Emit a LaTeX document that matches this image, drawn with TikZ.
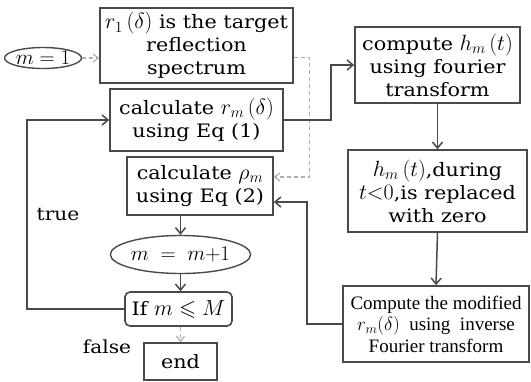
\RequirePackage{fix-cm}
\documentclass[tikz,border=0pt]{standalone}
\usepackage{amssymb}
\usepackage{fontspec}
\setmainfont{DejaVu Serif}[FakeStretch=1.12]
\newfontfamily\tnr{Liberation Serif}
\usetikzlibrary{arrows.meta,shapes.geometric,calc}
\definecolor{ln}{HTML}{4A4A4A}
\definecolor{lg}{HTML}{B0B0B0}
\newcommand\Mx[1]{{\fontsize{22}{23}\selectfont$#1$}}
\begin{document}
\begin{tikzpicture}[x=1pt,y=-1pt,
  box/.style={draw=ln,line width=1.6pt,inner sep=0pt,align=center,font=\fontsize{18.5}{23}\selectfont},
  oval/.style={draw=ln,line width=1.4pt,ellipse,inner sep=0pt,font=\fontsize{21}{21}\selectfont},
  arr/.style={draw=ln,line width=1.5pt,-{Straight Barb[length=6pt,width=10pt]}},
  garr/.style={draw=lg,line width=1.2pt,dashed,dash pattern=on 4pt off 3pt,-{Straight Barb[length=5pt,width=8pt]}},
  lbl/.style={font=\fontsize{18}{20}\selectfont,inner sep=0pt}]
\useasboundingbox (0,0) rectangle (531,381);
\node[oval,minimum width=60pt,minimum height=21pt] (e1) at (43,58) {$m=1$};
\node[box,minimum width=193pt,minimum height=75pt] (b1) at (196.5,45.5) {\Mx{r_1\,(\delta)} is the target\\reflection\\spectrum};
\node[box,minimum width=173pt,minimum height=62pt] (b2) at (196.5,120) {calculate \Mx{r_m\,(\delta)}\\using Eq (1)};
\node[box,minimum width=146pt,minimum height=58pt] (b3) at (200,186) {calculate \Mx{\rho_m}\\using Eq (2)};
\node[oval,minimum width=99pt,minimum height=38pt] (e2) at (180.5,254.5) {$m\;=\;m{+}1$};
\node[box,rounded corners=5pt,minimum width=107pt,minimum height=34pt] (if) at (178.5,309) {If \Mx{m\leqslant M}};
\node[box,minimum width=73pt,minimum height=37pt] (end) at (180.5,361.5) {end};
\node[box,minimum width=165pt,minimum height=76pt] (b4) at (437.5,65) {compute \Mx{h_m\,(t)}\\using fourier\\transform};
\node[box,minimum width=179pt,minimum height=82pt] (b5) at (437.5,191) {\Mx{h_m\,(t)},during\\\Mx{t{<}0},is replaced\\with zero};
\node[box,minimum width=186pt,minimum height=76pt,font=\tnr\fontsize{19}{21.5}\selectfont] (b6) at (436,324) {Compute the modified\\$r_m(\delta)$\ \ using\ \ inverse\\Fourier transform};
\node[lbl] (t) at (58,215) {true};
\node[lbl] (f) at (107,347) {false};
\draw[garr] (e1.east) -- (e1.east -| b1.west);
\draw[garr] ($(b1.east)+(0,12)$) -- ++(16,0) |- ($(b3.east)+(0,-9)$);
\draw[arr] (b2.east) -- ++(47,0) |- (b4.west);
\draw[arr] (b4.south) -- (b5.north);
\draw[arr] (b5.south) -- (b6.north);
\draw[arr] (b6.west) -- ++(-35,0) |- ($(b3.east)+(0,16)$);
\draw[arr] (e2.north |- b3.south) -- (e2.north);
\draw[arr] (e2.south) -- (e2.south |- if.north);
\draw[arr] (if.west) -- ++(-97,0) |- (b2.west);
\draw[garr] (end.north |- if.south) -- (end.north);
\end{tikzpicture}
\end{document}
